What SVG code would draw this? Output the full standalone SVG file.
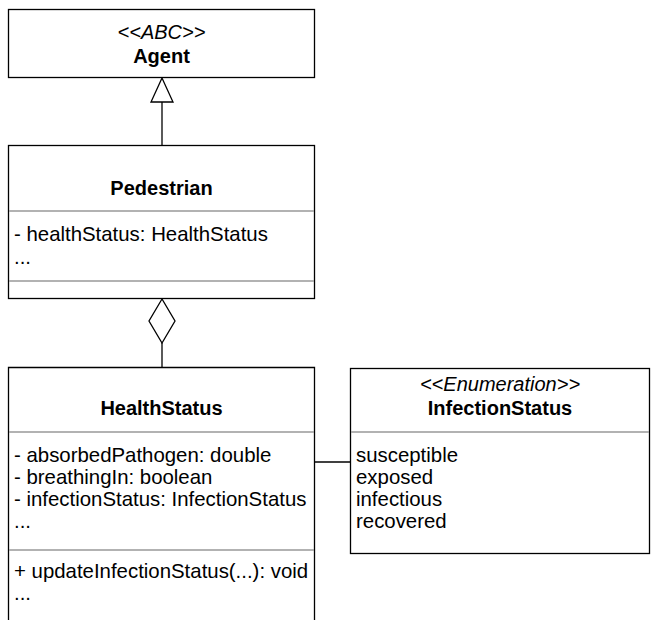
<svg xmlns="http://www.w3.org/2000/svg" width="652" height="620" viewBox="0 0 652 620">
<style>
.box{fill:#fff;stroke:#000;stroke-width:1.3}
.sep{stroke:#999;stroke-width:1.5}
.t{font-family:"Liberation Sans",Arial,sans-serif;font-size:20.4px;fill:#000}
.b{font-weight:bold;text-anchor:middle;font-size:20px}
.i{font-style:italic;text-anchor:middle;font-size:20px}
.edge{fill:none;stroke:#000;stroke-width:1.3}
</style>
<rect width="652" height="620" fill="#fff"/>
<g id="connectors">
<line class="edge" x1="162" y1="145" x2="162" y2="102"/>
<polygon class="edge" style="fill:#fff" points="162,78 151,102 173,102"/>
<line class="edge" x1="162" y1="343" x2="162" y2="367"/>
<polygon class="edge" style="fill:#fff" points="162,299 149,321 162,343 175,321"/>
<line class="edge" x1="315" y1="462" x2="350" y2="462"/>
</g>
<g id="agent">
<rect class="box" x="8.5" y="9.5" width="306" height="68"/>
<text class="t i" x="161.5" y="39">&lt;&lt;ABC&gt;&gt;</text>
<text class="t b" x="161.5" y="63">Agent</text>
</g>
<g id="pedestrian">
<rect class="box" x="8.5" y="145.5" width="306" height="153"/>
<text class="t b" x="161.5" y="195">Pedestrian</text>
<line class="sep" x1="9" y1="211" x2="314" y2="211"/>
<text class="t" x="14" y="241">- healthStatus: HealthStatus</text>
<text class="t" x="14" y="264">...</text>
<line class="sep" x1="9" y1="281" x2="314" y2="281"/>
</g>
<g id="healthStatus">
<path class="edge" d="M8.5,621 V367.5 H314.5 V621"/>
<text class="t b" x="161.5" y="415">HealthStatus</text>
<line class="sep" x1="9" y1="432" x2="314" y2="432"/>
<text class="t" x="14" y="462">- absorbedPathogen: double</text>
<text class="t" x="14" y="484">- breathingIn: boolean</text>
<text class="t" x="14" y="506">- infectionStatus: InfectionStatus</text>
<text class="t" x="14" y="528">...</text>
<line class="sep" x1="9" y1="550" x2="314" y2="550"/>
<text class="t" x="14" y="578">+ updateInfectionStatus(...): void</text>
<text class="t" x="14" y="600">...</text>
</g>
<g id="infectionStatus">
<rect class="box" x="350.5" y="368.5" width="299" height="185"/>
<text class="t i" x="500" y="391">&lt;&lt;Enumeration&gt;&gt;</text>
<text class="t b" x="500" y="415">InfectionStatus</text>
<line class="sep" x1="351" y1="432" x2="649" y2="432"/>
<text class="t" x="356" y="462">susceptible</text>
<text class="t" x="356" y="484">exposed</text>
<text class="t" x="356" y="506">infectious</text>
<text class="t" x="356" y="528">recovered</text>
</g>
</svg>
